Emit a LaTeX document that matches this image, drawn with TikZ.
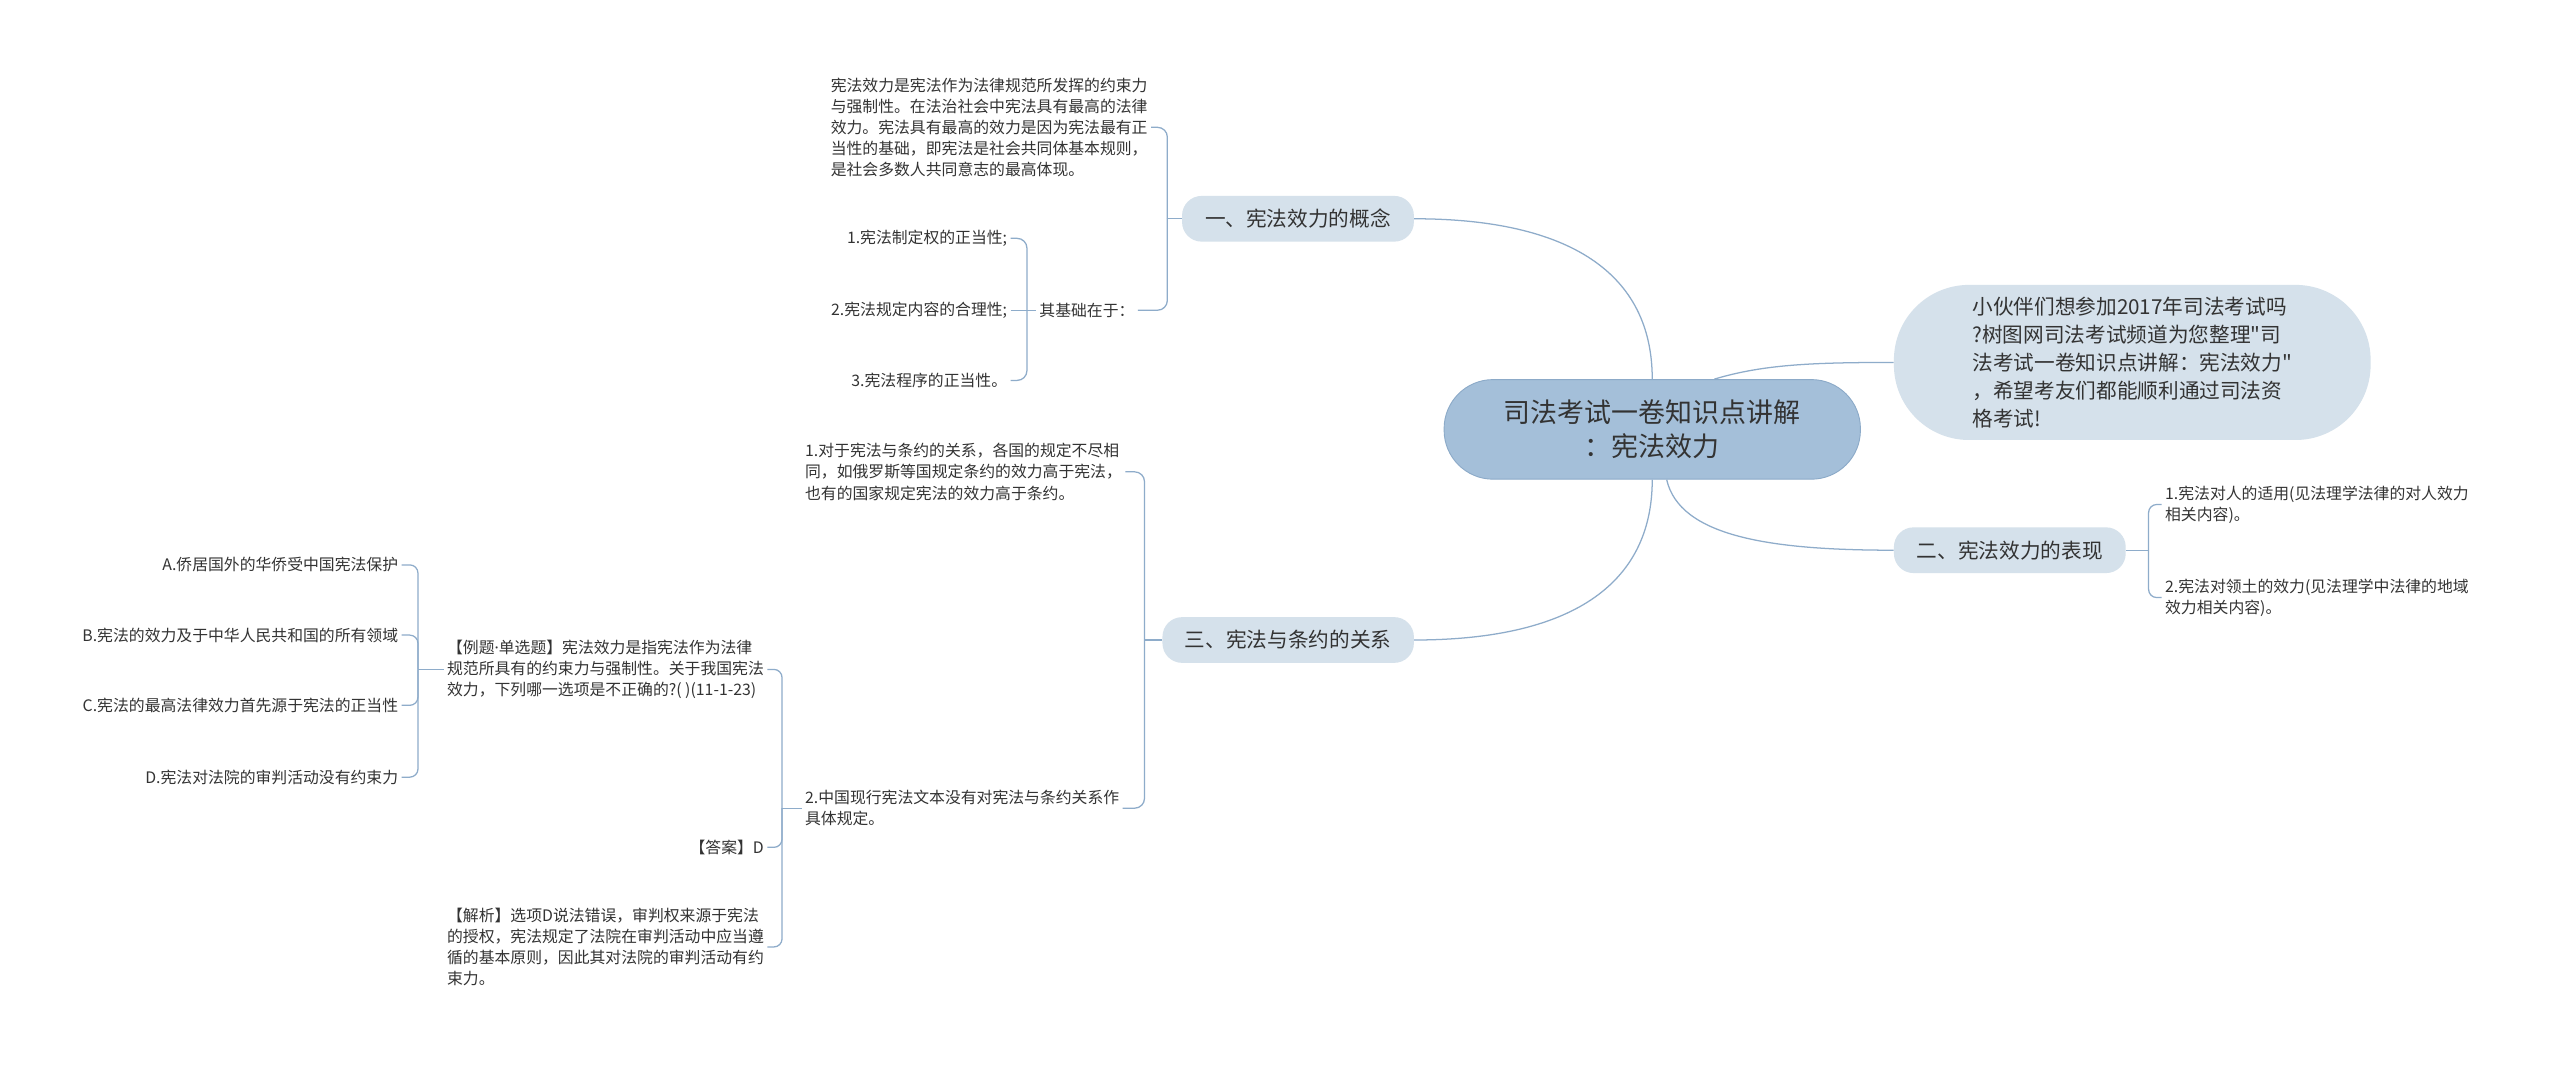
\documentclass[tikz,border=0pt]{standalone}
\usepackage{fontspec}
\setmainfont{Noto Sans CJK SC}
\newfontfamily\cjkfont{Noto Sans CJK SC}
\newfontfamily\latinfont{Noto Sans}
\usepackage{tikz}
\definecolor{linkblue}{RGB}{142,172,202}
\definecolor{rootblue}{RGB}{164,191,217}
\definecolor{rootedge}{RGB}{140,170,200}
\definecolor{topicblue}{RGB}{213,225,235}
\definecolor{textgray}{RGB}{51,51,51}

\begin{document}
\begin{tikzpicture}[x=0.05cm, y=-0.05cm,
    link/.style={draw=linkblue, line width=1.1pt},
    root/.style={fill=rootblue, draw=rootedge, line width=0.8pt, rounded corners=1.5cm,
        minimum width=12.75cm, minimum height=3.05cm, align=center,
        font=\cjkfont\fontsize{23.5}{30}\selectfont, text=textgray},
    topic/.style={fill=topicblue, rounded corners=0.6cm, minimum height=1.4cm,
        font=\cjkfont\fontsize{18}{24}\selectfont, text=textgray},
    leaf/.style={inner sep=0.1cm, align=left, font=\cjkfont\fontsize{13.8}{18.4}\selectfont, text=textgray}]
    % Khung nền trắng, cố định kích thước
    \useasboundingbox (0,0) rectangle (1568,652);
    \fill[white] (0,0) rectangle (1568,652);

    % Nút gốc ở giữa
    \node[root] (cen) at (1012,263) {司法考试一卷知识点讲解\\：宪法效力};

    % Nút giới thiệu bên phải
    \node[topic, rounded corners=2.3cm, minimum width=14.6cm, minimum height=4.75cm, align=left,
        font=\cjkfont\fontsize{18}{24.5}\selectfont] (intro) at (1306,222)
        {小伙伴们想参加2017年司法考试吗\\?树图网司法考试频道为您整理"司\\法考试一卷知识点讲解：宪法效力"\\，希望考友们都能顺利通过司法资\\格考试!};

    % Ba nút chủ đề
    \node[topic, minimum width=7.1cm] (yi) at (795,134) {一、宪法效力的概念};
    \node[topic, minimum width=7.1cm] (er) at (1231,337) {二、宪法效力的表现};
    \node[topic, minimum width=7.7cm] (san) at (789,392) {三、宪法与条约的关系};

    % Nhánh "一"
    \node[leaf, anchor=east] (cpt) at (705,78) {宪法效力是宪法作为法律规范所发挥的约束力\\与强制性。在法治社会中宪法具有最高的法律\\效力。宪法具有最高的效力是因为宪法最有正\\当性的基础，即宪法是社会共同体基本规则，\\是社会多数人共同意志的最高体现。};
    \node[leaf, anchor=east] (jc) at (697,190) {其基础在于：};
    \node[leaf, anchor=east] (j1) at (619,146) {1.宪法制定权的正当性;};
    \node[leaf, anchor=east] (j2) at (619,190) {2.宪法规定内容的合理性;};
    \node[leaf, anchor=east] (j3) at (619,233) {3.宪法程序的正当性。};

    % Nhánh "三"
    \node[leaf, anchor=west] (t1) at (491,289) {1.对于宪法与条约的关系，各国的规定不尽相\\同，如俄罗斯等国规定条约的效力高于宪法，\\也有的国家规定宪法的效力高于条约。};
    \node[leaf, anchor=west] (t2) at (491,495) {2.中国现行宪法文本没有对宪法与条约关系作\\具体规定。};
    \node[leaf, anchor=east] (ex) at (470,410) {【例题{\latinfont ·}单选题】宪法效力是指宪法作为法律\\规范所具有的约束力与强制性。关于我国宪法\\效力，下列哪一选项是不正确的?( )(11-1-23)};
    \node[leaf, anchor=east] (ans) at (470,519) {【答案】D};
    \node[leaf, anchor=east] (jx) at (470,580) {【解析】选项D说法错误，审判权来源于宪法\\的授权，宪法规定了法院在审判活动中应当遵\\循的基本原则，因此其对法院的审判活动有约\\束力。};
    \node[leaf, anchor=east] (opa) at (246,346) {A.侨居国外的华侨受中国宪法保护};
    \node[leaf, anchor=east] (opb) at (246,389) {B.宪法的效力及于中华人民共和国的所有领域};
    \node[leaf, anchor=east] (opc) at (246,432) {C.宪法的最高法律效力首先源于宪法的正当性};
    \node[leaf, anchor=east] (opd) at (246,476) {D.宪法对法院的审判活动没有约束力};

    % Nhánh "二"
    \node[leaf, anchor=west] (e1) at (1324,309) {1.宪法对人的适用(见法理学法律的对人效力\\相关内容)。};
    \node[leaf, anchor=west] (e2) at (1324,366) {2.宪法对领土的效力(见法理学中法律的地域\\效力相关内容)。};

    % Đường cong từ nút gốc
    \draw[link] (cen.north) .. controls +(0,-65) and +(95,0) .. (yi.east);
    \draw[link] (cen.south) .. controls +(0,65) and +(95,0) .. (san.east);
    \draw[link] (cen.39) .. controls +(30,-9) and +(-50,0) .. (intro.west);
    \draw[link] (cen.286) .. controls +(8,35) and +(-75,0) .. (er.west);

    % Ngoặc của "一"
    \coordinate (yib) at (715,134);
    \draw[link] (yib) -- (yi.west);
    \draw[link, rounded corners=0.3cm] (cpt.east) -| (yib);
    \draw[link, rounded corners=0.3cm] (jc.east) -| (yib);

    % Ngoặc của "其基础在于"
    \coordinate (jcb) at (629,190);
    \draw[link] (jcb) -- (jc.west);
    \draw[link, rounded corners=0.3cm] (j1.east) -| (jcb);
    \draw[link] (j2.east) -- (jcb);
    \draw[link, rounded corners=0.3cm] (j3.east) -| (jcb);

    % Ngoặc của "三"
    \coordinate (sanb) at (701,392);
    \draw[link] (sanb) -- (san.west);
    \draw[link, rounded corners=0.3cm] (t1.east) -| (sanb);
    \draw[link, rounded corners=0.3cm] (t2.east) -| (sanb);

    % Ngoặc của mục 2
    \coordinate (t2b) at (479,495);
    \draw[link] (t2b) -- (t2.west);
    \draw[link, rounded corners=0.25cm] (ex.east) -| (t2b);
    \draw[link, rounded corners=0.25cm] (ans.east) -| (t2b);
    \draw[link, rounded corners=0.25cm] (jx.east) -| (t2b);

    % Ngoặc của câu hỏi
    \coordinate (exb) at (256,410);
    \draw[link] (exb) -- (ex.west);
    \draw[link, rounded corners=0.25cm] (opa.east) -| (exb);
    \draw[link, rounded corners=0.25cm] (opb.east) -| (exb);
    \draw[link, rounded corners=0.25cm] (opc.east) -| (exb);
    \draw[link, rounded corners=0.25cm] (opd.east) -| (exb);

    % Ngoặc của "二"
    \coordinate (erb) at (1316,337);
    \draw[link] (er.east) -- (erb);
    \draw[link, rounded corners=0.25cm] (erb) |- (e1.west);
    \draw[link, rounded corners=0.25cm] (erb) |- (e2.west);
\end{tikzpicture}
\end{document}
